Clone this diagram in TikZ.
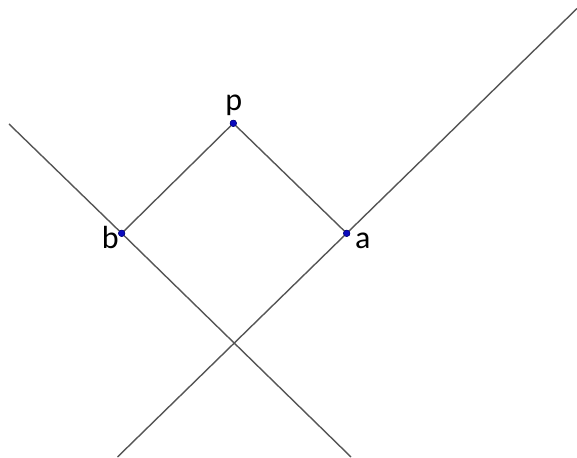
\documentclass[tikz,border=0pt]{standalone}
\usepackage{fontspec}
\setmainfont{Carlito}
\definecolor{ptblue}{RGB}{10,10,190}
\definecolor{lngray}{RGB}{85,85,85}
\tikzset{
  pt/.style={circle, fill=ptblue, draw=ptblue!60!black, line width=0.4pt, inner sep=0pt, minimum size=6.5pt},
  lbl/.style={inner sep=0pt, font=\fontsize{32}{32}\selectfont},
  ln/.style={lngray, line width=1.4pt}
}
\begin{document}
\begin{tikzpicture}[x=1pt, y=1pt]
  \useasboundingbox (0,0) rectangle (577,457);
  % Line ends
  \coordinate (L1top) at (9,333);
  \coordinate (L1bot) at (351,0);
  \coordinate (L2bot) at (117.5,0);
  \coordinate (L2top) at (577,448.5);

  % Points
  \draw (233.3,333.7) node(p) [pt] {};
  \draw (121.7,223.7) node(b) [pt] {};
  \draw (346.7,223.7) node(a) [pt] {};

  % Lines
  \draw[ln] (L1top) -- (b.center) -- (L1bot);
  \draw[ln] (L2bot) -- (a.center) -- (L2top);
  \draw[ln] (b.center) -- (p.center) -- (a.center);

  % redraw points on top
  \draw (p.center) node[pt] {};
  \draw (b.center) node[pt] {};
  \draw (a.center) node[pt] {};

  % Labels
  \draw (233.7,346) node(pl) [lbl, anchor=base] {p};
  \draw (119,208.7) node(bl) [lbl, anchor=base east] {b};
  \draw (355,208.7) node(al) [lbl, anchor=base west] {a};
\end{tikzpicture}
\end{document}
